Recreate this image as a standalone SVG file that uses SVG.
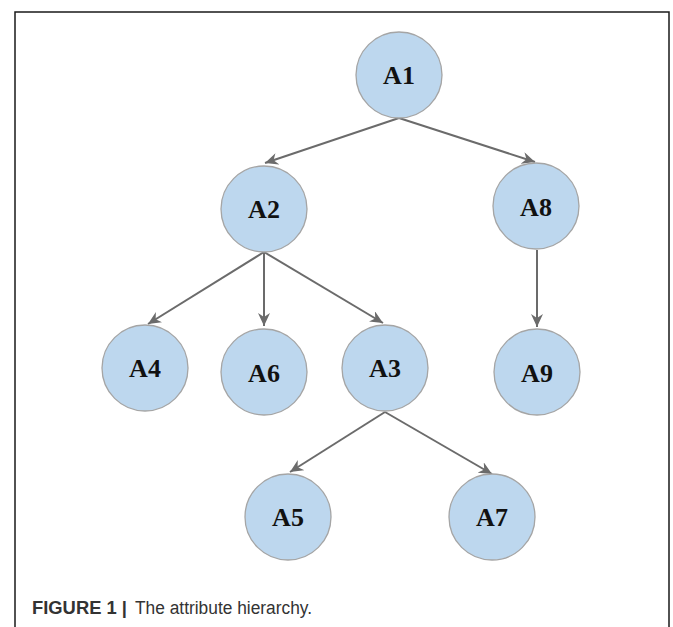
<svg xmlns="http://www.w3.org/2000/svg" width="673" height="627" viewBox="0 0 673 627">
<style>
.node circle{fill:#bdd7ee;stroke:#a5a5a5;stroke-width:1.3}
.node text{font-family:"Liberation Serif","Times New Roman",serif;font-weight:bold;font-size:26px;fill:#111;text-anchor:middle}
.edge{stroke:#6b6b6b;stroke-width:2;fill:none;marker-end:url(#arr)}
.cap{font-family:"Liberation Sans",Arial,sans-serif;font-size:18px;fill:#333}
</style>
<defs>
<marker id="arr" viewBox="0 0 14 12" refX="13" refY="6" markerWidth="14" markerHeight="12" markerUnits="userSpaceOnUse" orient="auto">
<path d="M0,0 L13,6 L0,12 L4,6 z" fill="#6b6b6b"/>
</marker>
</defs>
<rect width="673" height="627" fill="#fff"/>
<path d="M15,627 V12 H669 V627" fill="none" stroke="#1a1a1a" stroke-width="1.5"/>
<g id="connectors">
<line class="edge" x1="399" y1="118" x2="265" y2="163"/>
<line class="edge" x1="399" y1="118" x2="535" y2="162"/>
<line class="edge" x1="264" y1="252" x2="148" y2="324"/>
<line class="edge" x1="264" y1="252" x2="264" y2="326"/>
<line class="edge" x1="264" y1="252" x2="383" y2="323"/>
<line class="edge" x1="537" y1="250" x2="537" y2="327"/>
<line class="edge" x1="385" y1="412" x2="290" y2="472"/>
<line class="edge" x1="385" y1="412" x2="492" y2="474"/>
</g>
<g id="A1" class="node"><circle cx="399" cy="75" r="43"/><text x="399" y="84">A1</text></g>
<g id="A2" class="node"><circle cx="264" cy="209" r="43"/><text x="264" y="218">A2</text></g>
<g id="A8" class="node"><circle cx="536" cy="206" r="43"/><text x="536" y="216">A8</text></g>
<g id="A4" class="node"><circle cx="145" cy="368" r="43"/><text x="145" y="377">A4</text></g>
<g id="A6" class="node"><circle cx="264" cy="372" r="43"/><text x="264" y="382">A6</text></g>
<g id="A3" class="node"><circle cx="385" cy="368" r="43"/><text x="385" y="377">A3</text></g>
<g id="A9" class="node"><circle cx="537" cy="372" r="43"/><text x="537" y="382">A9</text></g>
<g id="A5" class="node"><circle cx="288" cy="517" r="43"/><text x="288" y="526">A5</text></g>
<g id="A7" class="node"><circle cx="492" cy="517" r="43"/><text x="492" y="526">A7</text></g>
<text class="cap" x="32" y="614" font-weight="bold" textLength="95" lengthAdjust="spacingAndGlyphs">FIGURE 1 |</text>
<text class="cap" x="135" y="614" textLength="177" lengthAdjust="spacingAndGlyphs">The attribute hierarchy.</text>
</svg>
